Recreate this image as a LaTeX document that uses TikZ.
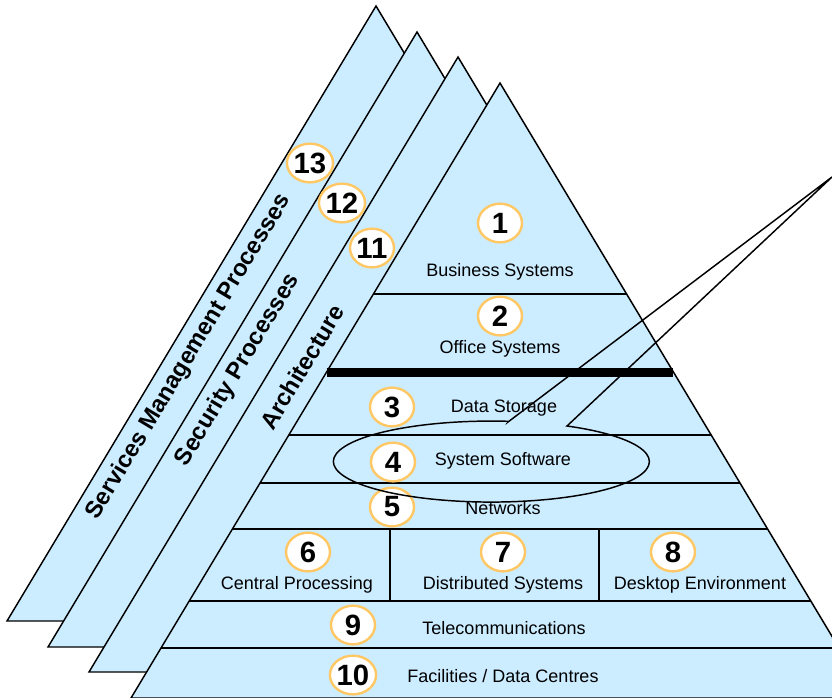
\documentclass[tikz,border=0pt]{standalone}
\usepackage{fontspec}
\setmainfont{Liberation Sans}
\usepackage{tikz}
\usetikzlibrary{shapes.geometric}
\definecolor{layerblue}{RGB}{204,236,255}
\definecolor{ringorange}{RGB}{255,200,100}
\tikzstyle{layer} = [fill=layerblue, draw=black, line width=1.1pt]
\tikzstyle{rowline} = [draw=black, line width=1.1pt]
\tikzstyle{num} = [ellipse, minimum width=33pt, minimum height=29pt, inner sep=0pt,
    draw=ringorange, line width=1.8pt, fill=white, font=\bfseries\fontsize{22}{22}\selectfont]
\tikzstyle{tier} = [font=\fontsize{13.5}{14}\selectfont]
\tikzstyle{strip} = [rotate=59, font=\bfseries\fontsize{17.8}{18}\selectfont]
\tikzstyle{callout} = [draw=black, line width=1.1pt]

\begin{document}
\begin{tikzpicture}[x=0.75pt, y=-0.75pt]
            \clip (0,0) rectangle (832,697);
            % the three side triangles, back to front, then the main one
            \foreach \ax/\ay in {376/6, 417/32, 458/57}
                \draw [layer] (\ax,\ay) -- ++(369,615) -- ++(-738,0) -- cycle;
            \draw [layer] (500,83) -- ++(369,615) -- ++(-738,0) -- cycle;

            \foreach \y in {294,435,483,529,601,648}
                \draw [rowline] ({500-0.6*(\y-83)},\y) -- ({500+0.6*(\y-83)},\y);
            \draw [line width=6.75pt] ({500-0.6*289},372) -- ({500+0.6*289},372);
            \draw [rowline] (390,529) -- (390,601);
            \draw [rowline] (599,529) -- (599,601);

            \node (svc) [strip] at (189,357) {Services Management Processes};
            \node (sec) [strip] at (238,370) {Security Processes};
            \node (arch) [strip] at (302,367) {Architecture};

            \node (bus) [tier] at (500,272) {Business Systems};
            \node (off) [tier] at (500,349) {Office Systems};
            \node (stor) [tier] at (504,408) {Data Storage};
            \node (sys) [tier] at (503,461) {System Software};
            \node (net) [tier] at (503,508) {Networks};
            \node (cpu) [tier] at (297,585) {Central Processing};
            \node (dist) [tier] at (503,585) {Distributed Systems};
            \node (desk) [tier] at (700,585) {Desktop Environment};
            \node (tel) [tier] at (504,628) {Telecommunications};
            \node (fac) [tier] at (503,676) {Facilities / Data Centres};

            \node (n1) [num] at (500,223) {1};
            \node (n2) [num] at (500,316) {2};
            \node (n3) [num] at (392,407) {3};
            \node (n4) [num] at (393,462) {4};
            \node (n5) [num] at (392,507) {5};
            \node (n6) [num] at (308,552) {6};
            \node (n7) [num] at (503,552) {7};
            \node (n8) [num] at (673,552) {8};
            \node (n9) [num] at (353,625) {9};
            \node (n10) [num] at (353,675) {10};
            \node (n11) [num] at (372,248) {11};
            \node (n12) [num] at (342,203) {12};
            \node (n13) [num] at (310,163) {13};

            % callout round System Software
            \coordinate (tip) at (832,177);
            \draw [callout] (508,422) -- (tip) -- (567,426)
                arc[start angle=-61.4, end angle=276.2, x radius=158, y radius=40.5] -- cycle;
\end{tikzpicture}
\end{document}
